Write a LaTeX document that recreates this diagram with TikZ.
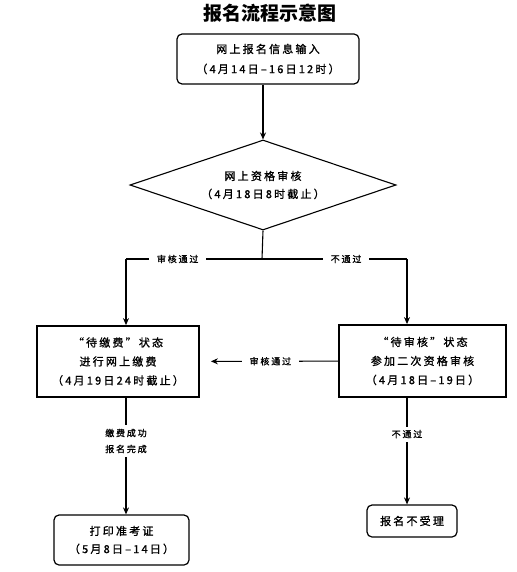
\documentclass[tikz,border=0pt]{standalone}
\usepackage{fontspec}
\setmainfont{Noto Sans CJK SC}[LetterSpace=20, FakeBold=1.2]
\newfontfamily\titlefont{Noto Sans CJK SC}
\usetikzlibrary{arrows.meta, shapes.geometric, positioning, calc}

\tikzset{
    box/.style={draw, line width=1.8pt, align=center, font=\fontsize{11}{19}\selectfont},
    roundbox/.style={draw, rounded corners=5pt, line width=1.2pt, align=center, font=\fontsize{11}{18}\selectfont},
    link/.style={line width=1.1pt},
    flow/.style={line width=1.1pt, -{Stealth[length=7pt, width=6pt]}},
    passlabel/.style={fill=white, inner xsep=8pt, align=center, font=\fontsize{9}{16}\selectfont}
}

\begin{document}
\begin{tikzpicture}[x=1pt, y=-1pt]
    \useasboundingbox (0, 0) rectangle (516, 572);

    % title
    \node[font=\titlefont\bfseries\fontsize{19}{22}\selectfont] (title) at (270, 13) {报名流程示意图};

    % steps
    \node[roundbox, minimum width=182pt, minimum height=50pt] (input) at (268, 59) {网上报名信息输入\\[2pt]（4月14日–16日12时）};
    \node[diamond, aspect=2.96, draw, line width=1.1pt, minimum width=266pt, minimum height=90pt, inner sep=0pt,
          align=center, font=\fontsize{11}{18}\selectfont] (check) at (263, 185) {网上资格审核\\（4月18日8时截止）};
    \node[box, minimum width=162pt, minimum height=71pt] (pay) at (118, 361.5) {“待缴费”状态\\进行网上缴费\\（4月19日24时截止）};
    \node[box, minimum width=167pt, minimum height=72pt] (recheck) at (422.5, 361) {“待审核”状态\\参加二次资格审核\\（4月18日–19日）};
    \node[roundbox, minimum width=135pt, minimum height=50pt] (ticket) at (121.5, 540) {打印准考证\\（5月8日–14日）};
    \node[roundbox, minimum width=90pt, minimum height=32pt] (reject) at (412, 521) {报名不受理};

    % branch points
    \coordinate (split) at (262, 259);
    \coordinate (lturn) at (126, 259);
    \coordinate (rturn) at (407, 259);

    \draw[flow] (check.north |- input.south) -- (check.north);
    \draw[link] (check.south) -- (split);
    \draw[link] (split) -- node[passlabel, pos=0.62] {审核通过} (lturn);
    \draw[link] (split) -- node[passlabel, pos=0.58] {不通过} (rturn);
    \draw[flow] (lturn) -- (lturn |- pay.north);
    \draw[flow] (rturn) -- (rturn |- recheck.north);

    \draw[flow, shorten >=11pt] (recheck) -- node[passlabel, pos=0.49] {审核通过} (pay);

    \draw[flow] (pay.south -| lturn) -- node[passlabel, pos=0.37] {缴费成功\\报名完成} (lturn |- ticket.north);
    \draw[flow] (recheck.south -| rturn) -- node[passlabel, pos=0.34] {不通过} (rturn |- reject.north);
\end{tikzpicture}
\end{document}
